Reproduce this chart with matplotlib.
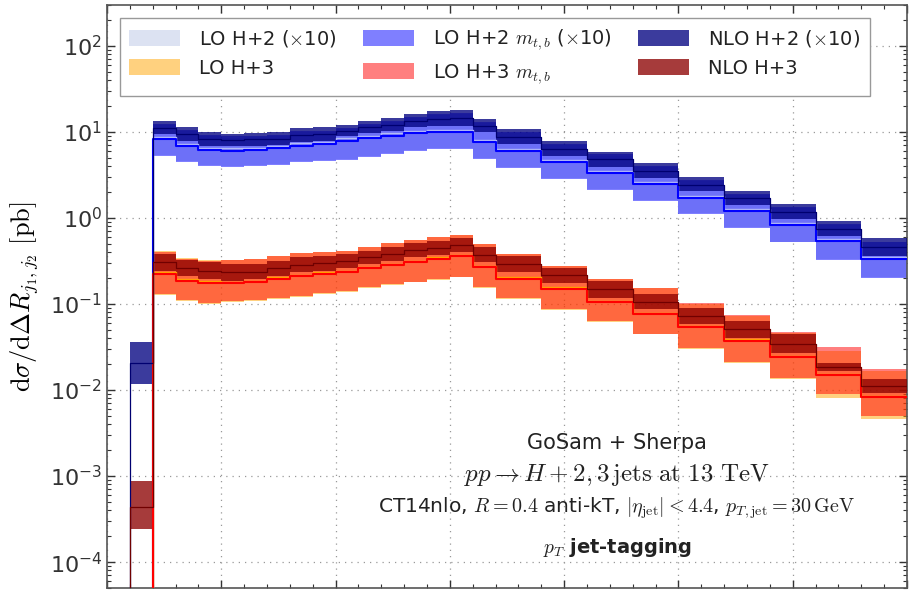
import numpy as np
import matplotlib
matplotlib.use("Agg")
import matplotlib.pyplot as plt
import matplotlib.patches as mpatches
from matplotlib.ticker import MultipleLocator, LogLocator, NullFormatter

plt.rcParams["mathtext.fontset"] = "cm"
plt.rcParams["font.family"] = ["DejaVu Sans"]

# bin edges in Delta R_{j1,j2}
edges = [0.2, 0.4, 0.6, 0.8, 1.0, 1.2, 1.4, 1.6, 1.8, 2.0, 2.2, 2.4, 2.6, 2.8,
         3.0, 3.2, 3.4, 3.8, 4.2, 4.6, 5.0, 5.4, 5.8, 6.2, 6.6, 7.0]

# H+2 jets (x10), pb
nlo2_c = [0.0204, 11.0, 9.4, 8.2, 8.0, 8.2, 8.4, 9.2, 9.4, 10.4, 11.3, 12.2, 13.5,
          14.3, 14.6, 11.8, 8.8, 6.4, 4.8, 3.5, 2.45, 1.7, 1.18, 0.75, 0.455]
nlo2_lo = [0.0119, 9.53, 7.96, 6.96, 6.85, 6.96, 7.15, 7.75, 7.96, 9.1, 9.71, 10.4, 11.4,
           11.9, 11.9, 9.97, 7.28, 5.32, 3.96, 2.93, 2.05, 1.43, 0.973, 0.622, 0.364]
nlo2_hi = [0.0361, 13.3, 11.4, 9.97, 9.6, 9.87, 10.1, 11.1, 11.3, 12.2, 13.4, 14.6, 16.3,
           17.5, 18.1, 14.3, 10.9, 7.96, 5.93, 4.34, 2.98, 2.08, 1.46, 0.93, 0.58]

mtb2_c = [0, 8.33, 6.85, 6.25, 6.09, 6.25, 6.49, 6.96, 7.28, 7.96, 8.56, 9.1, 9.71,
          9.97, 9.97, 7.62, 6.04, 4.46, 3.32, 2.49, 1.71, 1.22, 0.836, 0.544, 0.333]
mtb2_lo = [0, 5.32, 4.46, 4.07, 3.96, 4.07, 4.18, 4.46, 4.66, 4.74, 5.1, 5.57, 5.99,
           6.32, 6.37, 4.87, 3.86, 2.85, 2.12, 1.57, 1.11, 0.765, 0.521, 0.327, 0.2]
mtb2_hi = [0, 12.4, 10.5, 9.2, 8.9, 9.1, 9.3, 10.2, 10.4, 11.2, 12.3, 13.4, 15.0,
           16.1, 16.6, 13.2, 10.0, 7.3, 5.5, 4.0, 2.75, 1.92, 1.35, 0.86, 0.53]

lo2_c = [0, 8.8, 7.25, 6.6, 6.45, 6.6, 6.9, 7.4, 7.7, 8.45, 9.05, 9.65, 10.3,
         10.6, 10.6, 8.1, 6.4, 4.7, 3.5, 2.64, 1.81, 1.29, 0.885, 0.575, 0.353]
lo2_lo = [0, 5.45, 4.58, 4.18, 4.07, 4.18, 4.29, 4.58, 4.78, 4.86, 5.23, 5.71, 6.14,
          6.48, 6.53, 5.0, 3.96, 2.92, 2.17, 1.61, 1.14, 0.785, 0.534, 0.335, 0.205]
lo2_hi = [0, 12.0, 10.2, 8.9, 8.6, 8.8, 9.0, 9.9, 10.1, 10.9, 12.0, 13.0, 14.6,
          15.6, 16.2, 12.8, 9.7, 7.1, 5.3, 3.9, 2.67, 1.86, 1.31, 0.83, 0.52]

# H+3 jets, pb
nlo3_c = [4.43e-4, 0.305, 0.264, 0.244, 0.233, 0.238, 0.260, 0.285, 0.297, 0.318, 0.348,
          0.384, 0.420, 0.450, 0.483, 0.373, 0.289, 0.218, 0.149, 0.106, 0.0728, 0.0508,
          0.0348, 0.0186, 0.0111]
nlo3_lo = [2.42e-4, 0.243, 0.213, 0.195, 0.186, 0.195, 0.213, 0.233, 0.243, 0.266, 0.291,
           0.318, 0.348, 0.373, 0.398, 0.305, 0.233, 0.178, 0.119, 0.0869, 0.0582, 0.0407,
           0.0272, 0.0166, 0.0093]
nlo3_hi = [8.84e-4, 0.384, 0.328, 0.305, 0.291, 0.291, 0.318, 0.348, 0.364, 0.380, 0.416,
           0.463, 0.507, 0.544, 0.585, 0.456, 0.358, 0.266, 0.186, 0.130, 0.091, 0.0635,
           0.0445, 0.0208, 0.0133]

mtb3_c = [0, 0.222, 0.186, 0.178, 0.177, 0.181, 0.197, 0.211, 0.226, 0.235, 0.262, 0.288,
          0.307, 0.337, 0.361, 0.268, 0.197, 0.151, 0.105, 0.077, 0.0537, 0.0376, 0.024,
          0.0148, 0.00835]
mtb3_lo = [0, 0.132, 0.112, 0.104, 0.109, 0.111, 0.117, 0.124, 0.133, 0.142, 0.156, 0.170,
           0.183, 0.198, 0.209, 0.156, 0.119, 0.0869, 0.0635, 0.0453, 0.0311, 0.0211,
           0.0139, 0.00912, 0.00496]
mtb3_hi = [0, 0.40, 0.335, 0.315, 0.322, 0.333, 0.364, 0.391, 0.398, 0.416, 0.463, 0.511,
           0.554, 0.605, 0.638, 0.498, 0.380, 0.278, 0.198, 0.152, 0.102, 0.074, 0.0473,
           0.032, 0.0174]

lo3_c = [0, 0.233, 0.195, 0.184, 0.181, 0.186, 0.204, 0.218, 0.233, 0.243, 0.271, 0.296,
         0.318, 0.348, 0.373, 0.278, 0.204, 0.156, 0.109, 0.0796, 0.0556, 0.0389, 0.0248,
         0.0152, 0.00865]
lo3_lo = [0, 0.128, 0.109, 0.101, 0.106, 0.108, 0.114, 0.121, 0.13, 0.139, 0.152, 0.166,
          0.179, 0.193, 0.204, 0.152, 0.116, 0.085, 0.062, 0.0443, 0.0304, 0.0206, 0.0136,
          0.00813, 0.00463]
lo3_hi = [0, 0.415, 0.345, 0.322, 0.326, 0.336, 0.366, 0.393, 0.40, 0.418, 0.465, 0.513,
          0.556, 0.607, 0.64, 0.50, 0.382, 0.279, 0.198, 0.152, 0.101, 0.0735, 0.0465,
          0.0284, 0.0165]

labels = [r"LO H+2 ($\times$10)", r"LO H+3",
          r"LO H+2 $m_{t,b}$ ($\times$10)", r"LO H+3 $m_{t,b}$",
          r"NLO H+2 ($\times$10)", r"NLO H+3"]

# (colour, alpha) of each band, in legend order
styles = [("#dce2f2", 1.0), ("orange", 0.5),
          ("blue", 0.5), ("red", 0.5),
          ("navy", 0.77), ("darkred", 0.77)]


def band(ax, lo, hi, style, start=0, z=1):
    # shaded scale-variation band, drawn as a histogram between lo and hi
    color, alpha = style
    ax.stairs(hi[start:], edges[start:], baseline=lo[start:], fill=True,
              color=color, alpha=alpha, lw=0, zorder=z)


def step_line(ax, vals, color, lw, z=5):
    x = [edges[0]] + edges
    y = [1e-9] + vals + [vals[-1]]
    ax.plot(x, y, drawstyle="steps-post", color=color, lw=lw, zorder=z)


fig = plt.figure(figsize=(9.12, 5.90), dpi=100)
ax = fig.add_axes([0.1173, 0.0034, 0.8772, 0.9881])
ax.set_yscale("log")

# LO bands
band(ax, lo2_lo, lo2_hi, styles[0], start=1, z=1)
band(ax, mtb2_lo, mtb2_hi, styles[2], start=1, z=2)
band(ax, lo3_lo, lo3_hi, styles[1], start=1, z=1)
band(ax, mtb3_lo, mtb3_hi, styles[3], start=1, z=2)
# NLO bands
band(ax, nlo2_lo, nlo2_hi, styles[4], z=3)
band(ax, nlo3_lo, nlo3_hi, styles[5], z=3)

# central values
step_line(ax, lo2_c, "#b4bcf6", 1.0, z=4)
step_line(ax, mtb2_c, "blue", 1.5, z=4)
step_line(ax, nlo2_c, "#000070", 0.9, z=5)
step_line(ax, lo3_c, "orange", 1.0, z=4)
step_line(ax, mtb3_c, "red", 1.5, z=4)
step_line(ax, nlo3_c, "#700000", 0.9, z=5)

ax.set_xlim(0, 7)
ax.set_ylim(5e-5, 3e2)

ax.xaxis.set_major_locator(MultipleLocator(1))
ax.xaxis.set_minor_locator(MultipleLocator(0.2))
ax.yaxis.set_major_locator(LogLocator(base=10, numticks=20))
ax.yaxis.set_minor_locator(LogLocator(base=10, subs=np.arange(2, 10), numticks=20))
ax.yaxis.set_minor_formatter(NullFormatter())
ax.tick_params(which="both", direction="in", top=True, right=True,
               labelbottom=False, labelsize=16, colors="#333333")
ax.tick_params(which="major", length=6, width=1)
ax.tick_params(which="minor", length=3, width=0.8)
for s in ax.spines.values():
    s.set_color("#555555")
    s.set_linewidth(1.2)

ax.grid(True, which="major", ls=(0, (1, 4)), color="#999999", lw=0.9)
ax.set_axisbelow(True)

ax.set_ylabel(r"$\mathrm{d}\sigma/\mathrm{d}\Delta R_{j_1,j_2}\ [\mathrm{pb}]$", fontsize=19)
ax.yaxis.set_label_coords(-0.083, 0.5)

# legend patches show the band colours as they appear on white
handles = [mpatches.Patch(facecolor=c, alpha=a, edgecolor="none") for c, a in styles]
leg = ax.legend(handles, labels, ncol=3, loc="upper left", bbox_to_anchor=(0.016, 0.978),
                borderaxespad=0, fontsize=14, handlelength=2.6, handleheight=0.88,
                handletextpad=1.0, columnspacing=1.35, labelspacing=0.5, borderpad=0.5,
                fancybox=False, framealpha=1, edgecolor="#999999")
leg.get_frame().set_linewidth(1.0)
for t in leg.get_texts():
    t.set_color("#222222")

tx = 0.6375
ax.text(tx, 0.249, "GoSam + Sherpa", transform=ax.transAxes, ha="center", va="center",
        fontsize=15, color="#222222")
ax.text(tx, 0.194, r"$pp \rightarrow H+2,3\,\mathrm{jets\ at\ 13\ TeV}$", transform=ax.transAxes,
        ha="center", va="center", fontsize=18, color="#222222")
ax.text(tx, 0.137, r"CT14nlo, $R=0.4$ anti-kT, $|\eta_\mathrm{jet}|<4.4$, $p_{T,\mathrm{jet}}=30\,\mathrm{GeV}$",
        transform=ax.transAxes, ha="center", va="center", fontsize=14.5, color="#222222")
ax.text(tx, 0.070, r"$p_T$ jet-tagging", transform=ax.transAxes, ha="center",
        va="center", fontsize=14, fontweight="bold", color="#222222")

fig.savefig("out.png", dpi=100)
